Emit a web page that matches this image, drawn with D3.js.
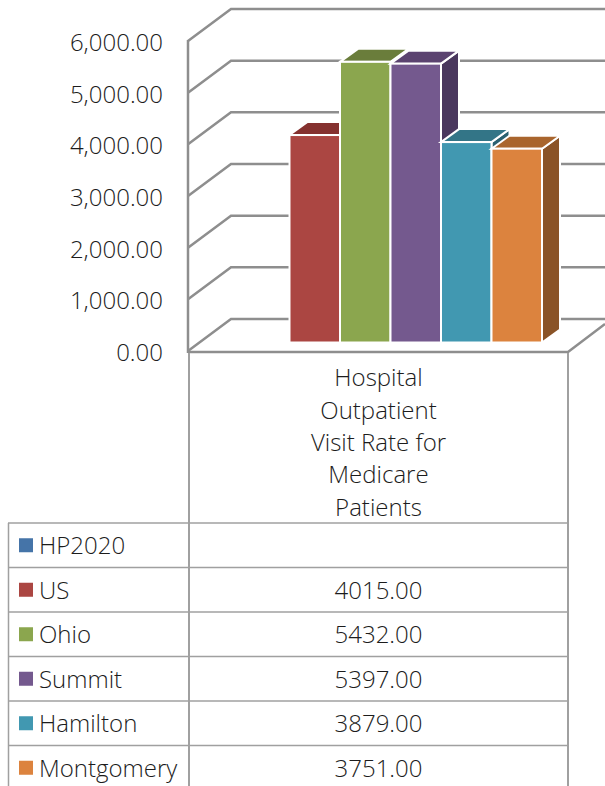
<!DOCTYPE html>
<html>
<head>
<meta charset="utf-8">
<script src="https://cdn.jsdelivr.net/npm/d3@7"></script>
<style>
    html, body { margin: 0; padding: 0; background: #fff; }
    svg { display: block; }
    text { font-family: "Open Sans", sans-serif; font-weight: 300; fill: #1c1c1c; }
</style>
</head>
<body>
<svg id="chart" width="605" height="786"></svg>
<script>
const seriesNames = ["HP2020", "US", "Ohio", "Summit", "Hamilton", "Montgomery"];
const seriesValues = [null, 4015, 5432, 5397, 3879, 3751];
const frontColors = ["#4574a8", "#ab4642", "#8ba64e", "#74598e", "#4198b1", "#dc833e"];
const topColors = ["#35587f", "#85312f", "#6a7d3b", "#5b4370", "#337587", "#a9652d"];
const sideColors = ["#2b4868", "#722a28", "#566632", "#4a385e", "#2a6070", "#8a5327"];
const yTicks = [0, 1000, 2000, 3000, 4000, 5000, 6000];
const categoryLines = ["Hospital", "Outpatient", "Visit Rate for", "Medicare", "Patients"];

const svg = d3.select("#chart");
const gridColor = "#8e8e8e";
const tableColor = "#a0a0a0";
const fontSize = 24;

// 3d offsets of the plot box and of the bars
const wallDx = 43, wallDy = -32;
const barDx = 18, barDy = -13;

const yFront = d3.scaleLinear().domain([0, 6000]).range([351, 41]);
const yBar = d3.scaleLinear().domain([0, 6000]).range([342.5, 32.5]);
const barSeries = seriesNames.filter((d, i) => seriesValues[i] !== null);
const xBar = d3.scaleBand().domain(barSeries).range([289.5, 542]);

// walls
const grid = svg.append("g");
yTicks.forEach(t => {
    grid.append("path")
        .attr("d", d3.line()([
            [188, yFront(t)],
            [188 + wallDx, yFront(t) + wallDy],
            [605, yFront(t) + wallDy]
        ]))
        .attr("fill", "none")
        .attr("stroke", gridColor)
        .attr("stroke-width", 2.5);
});
grid.append("line")
    .attr("x1", 188).attr("x2", 188)
    .attr("y1", yFront(6000) - 1).attr("y2", yFront(0) + 2)
    .attr("stroke", gridColor).attr("stroke-width", 2.5);
grid.append("path")
    .attr("d", d3.line()([[188, 352], [568, 352], [605, 324]]))
    .attr("fill", "none")
    .attr("stroke", gridColor)
    .attr("stroke-width", 2.5);

// axis labels
const yAxis = d3.axisLeft(yFront)
    .tickValues(yTicks)
    .tickSize(0)
    .tickPadding(0)
    .tickFormat(d3.format(",.2f"));
svg.append("g")
    .attr("transform", "translate(163,1)")
    .call(yAxis)
    .call(g => g.select(".domain").remove())
    .selectAll("text")
    .attr("font-size", fontSize)
    .style("font-family", "\"Open Sans\", sans-serif")
    .attr("dy", "0.35em");

// bars, left to right so each front hides its neighbour's side
const bars = svg.selectAll("g.bar")
    .data(barSeries)
    .join("g")
    .attr("class", "bar");

const barColor = (list, d) => list[seriesNames.indexOf(d)];
const barValue = d => seriesValues[seriesNames.indexOf(d)];
const barEdge = { stroke: "#fff", width: 2 };

bars.append("path")
    .attr("d", d => {
        const x1 = xBar(d) + xBar.bandwidth(), y0 = yBar(0), y1 = yBar(barValue(d));
        return d3.line()([[x1, y1], [x1 + barDx, y1 + barDy], [x1 + barDx, y0 + barDy], [x1, y0]]) + "Z";
    })
    .attr("fill", d => barColor(sideColors, d))
    .attr("stroke", barEdge.stroke).attr("stroke-width", barEdge.width);

bars.append("path")
    .attr("d", d => {
        const x0 = xBar(d), x1 = x0 + xBar.bandwidth(), y1 = yBar(barValue(d));
        return d3.line()([[x0, y1], [x0 + barDx, y1 + barDy], [x1 + barDx, y1 + barDy], [x1, y1]]) + "Z";
    })
    .attr("fill", d => barColor(topColors, d))
    .attr("stroke", barEdge.stroke).attr("stroke-width", barEdge.width);

bars.append("rect")
    .attr("x", d => xBar(d))
    .attr("y", d => yBar(barValue(d)))
    .attr("width", xBar.bandwidth())
    .attr("height", d => yBar(0) - yBar(barValue(d)))
    .attr("fill", d => barColor(frontColors, d))
    .attr("stroke", barEdge.stroke).attr("stroke-width", barEdge.width);

// data table
const rowY = d3.scaleBand().domain(seriesNames).range([523, 790]);
const table = svg.append("g");

seriesNames.forEach(d => {
    table.append("line")
        .attr("x1", 8).attr("x2", 568)
        .attr("y1", rowY(d)).attr("y2", rowY(d))
        .attr("stroke", tableColor).attr("stroke-width", 1.5);
});
table.append("line")
    .attr("x1", 8.5).attr("x2", 8.5).attr("y1", 523).attr("y2", 786)
    .attr("stroke", tableColor).attr("stroke-width", 1.5);
table.append("line")
    .attr("x1", 189).attr("x2", 189).attr("y1", 353).attr("y2", 786)
    .attr("stroke", tableColor).attr("stroke-width", 2);
table.append("line")
    .attr("x1", 568).attr("x2", 568).attr("y1", 353).attr("y2", 786)
    .attr("stroke", tableColor).attr("stroke-width", 2);

const rows = svg.selectAll("g.row")
    .data(seriesNames)
    .join("g")
    .attr("class", "row")
    .attr("transform", d => `translate(0,${rowY(d) + rowY.bandwidth() / 2})`);

rows.append("rect")
    .attr("x", 19).attr("y", -7)
    .attr("width", 14).attr("height", 14)
    .attr("fill", (d, i) => frontColors[i]);

rows.append("text")
    .attr("x", 39)
    .attr("y", 0.5)
    .attr("dy", "0.35em")
    .attr("font-size", fontSize)
    .text(d => d);

rows.append("text")
    .attr("x", 378.5)
    .attr("y", 0.5)
    .attr("dy", "0.35em")
    .attr("font-size", fontSize)
    .attr("text-anchor", "middle")
    .text((d, i) => seriesValues[i] === null ? "" : seriesValues[i].toFixed(2));

// category label, wrapped as in the table header
svg.append("g").selectAll("text")
    .data(categoryLines)
    .join("text")
    .attr("x", 378.5)
    .attr("y", (d, i) => 378 + i * 32.3)
    .attr("dy", "0.35em")
    .attr("font-size", fontSize)
    .attr("text-anchor", "middle")
    .text(d => d);
</script>
</body>
</html>
